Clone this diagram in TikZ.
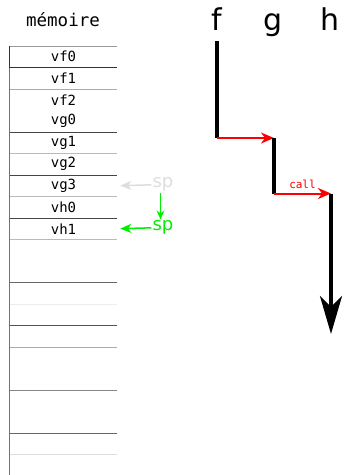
\documentclass[tikz,border=0pt]{standalone}
\usepackage{fontspec}
\setsansfont{DejaVu Sans}
\setmonofont{DejaVu Sans Mono}
\usepackage{xcolor}
\definecolor{STred}{HTML}{FF0000}
\definecolor{STgreen}{HTML}{00EE00}
\definecolor{STghost}{HTML}{DDDDDD}
\usetikzlibrary{arrows.meta, positioning}

\begin{document}
\begin{tikzpicture}[
  x=1pt, y=-1pt,
  cell/.style={minimum width=107pt, minimum height=21.5pt, inner sep=0pt,
    font=\ttfamily\fontsize{14}{14}\selectfont},
  fun/.style={anchor=base, inner sep=0pt, font=\sffamily\fontsize{30}{30}\selectfont},
  run/.style={line width=4pt, black},
  runend/.style={run, -{Stealth[length=38pt, width=22pt, inset=11pt]}},
  callarrow/.style={-{Stealth[length=13pt, width=11pt, inset=4pt]}, line width=2pt, STred},
  ptr/.style={-{Stealth[length=11pt, width=9pt, inset=3pt]}, line width=1.5pt},
  splabel/.style={inner sep=1pt, font=\sffamily\fontsize{18}{18}\selectfont},
]
\useasboundingbox (0,0) rectangle (344,475);

% memory column
\node[font=\ttfamily\fontsize{17.5}{17.5}\selectfont] (title) at (63,20) {mémoire};
\foreach \name [count=\i from 0] in {vf0,vf1,vf2,vg0,vg1,vg2,vg3,vh0,vh1}
  \node[cell] (\name) at (63.5, 56.75+21.5*\i) {\name};

% row separators, one shade each
\foreach \y/\shade in {46/40, 67.5/80, 89/33, 132/73, 153.5/27, 175/73, 196.5/27,
    218/73, 239.5/27, 282.5/60, 304/7, 325.5/67, 347/33, 390/47, 433/60, 454.5/13}
  \draw[black!\shade] (10,\y) -- (117,\y);
\draw[black!80] (9.5,46) -- (9.5,67.5);
\draw[black!55] (9.5,67.5) -- (9.5,475);

% stack pointer before and after the call
\node[splabel, text=STghost] (spold) at (163,184.5) {sp};
\node[splabel, text=STgreen] (spnew) at (163,227.5) {sp};
\draw[ptr, STghost, shorten >=3pt] (spold) -- (vg3.east);
\draw[ptr, STgreen, shorten >=3pt] (spnew) -- (vh1.east);
\draw[ptr, STgreen, -{Stealth[length=9pt, width=8pt, inset=3pt]}]
  ([xshift=-2.5pt]spold.south) -- ([xshift=-2.5pt]spnew.north);

% execution flow f -> g -> h
\node[fun] (f) at (217,30) {f};
\node[fun] (g) at (273,30) {g};
\node[fun] (h) at (330,30) {h};
\coordinate (f0) at (217,41);
\coordinate (f1) at (217,138);
\coordinate (g1) at (274,138);
\coordinate (g2) at (274,193.5);
\coordinate (h2) at (331,193.5);
\coordinate (h3) at (331,334);

\draw[run] (f0) -- (f1);
\draw[callarrow] (f1) -- (g1);
\draw[run] (g1) -- (g2);
\draw[callarrow] (g2) -- node[above=1pt, text=STred, font=\ttfamily\fontsize{11}{11}\selectfont] (calllbl) {call} (h2);
\draw[runend] (h2) -- (h3);
\end{tikzpicture}
\end{document}
